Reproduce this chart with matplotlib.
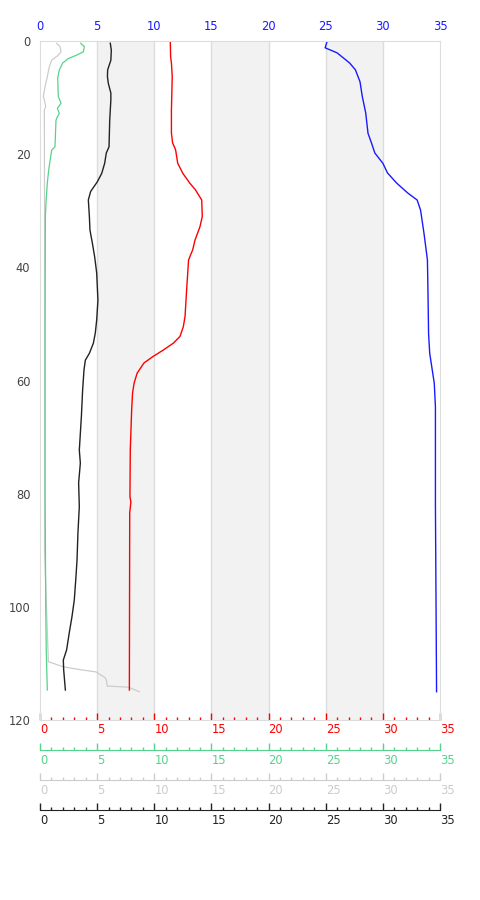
import matplotlib
matplotlib.use("Agg")
import matplotlib.pyplot as plt
from matplotlib.ticker import MultipleLocator

# depth profiles (depth in m, value on 0-35 scale)
blue_depth = [0.2, 1.2, 2.1, 3.9, 5.1, 7.2, 9.8, 12.7, 16.3, 18.0, 19.8, 21.6, 23.3, 25.1,
              26.9, 28.1, 29.9, 34.0, 38.7, 44.6, 51.7, 55.2, 60.5, 64.7, 82.0, 115.0]
blue_val = [25.1, 24.95, 26.0, 27.1, 27.6, 28.0, 28.2, 28.5, 28.7, 29.0, 29.3, 30.0, 30.4, 31.2,
            32.2, 33.0, 33.3, 33.6, 33.9, 33.95, 34.0, 34.1, 34.5, 34.6, 34.6, 34.7]

red_depth = [0, 2.8, 3.9, 6.3, 12.2, 16.3, 18.0, 18.9, 19.3, 21.6, 23.4, 25.1, 26.3, 28.1,
             31.0, 32.8, 35.2, 36.9, 38.7, 44.0, 48.7, 50.5, 52.2, 53.4, 54.6, 55.8, 56.9,
             58.7, 60.5, 62.2, 65.2, 72.3, 80.5, 81.5, 83.4, 114.7]
red_val = [11.4, 11.43, 11.5, 11.57, 11.5, 11.5, 11.6, 11.8, 11.87, 12.05, 12.5, 13.1, 13.6, 14.15,
           14.2, 14.0, 13.56, 13.36, 13.0, 12.83, 12.69, 12.54, 12.25, 11.67, 10.8, 9.86, 9.1,
           8.5, 8.23, 8.1, 8.02, 7.9, 7.87, 7.95, 7.85, 7.82]

black_depth = [0.4, 1.6, 3.4, 5.1, 6.3, 7.5, 9.2, 10.4, 14.0, 18.7, 19.8, 21.6, 23.4, 24.9,
               26.6, 28.1, 31.0, 33.4, 35.7, 38.1, 41.0, 45.8, 49.3, 51.6, 53.4, 55.2, 56.4,
               58.1, 61.7, 66.4, 72.3, 74.6, 78.1, 82.3, 86.9, 91.7, 94.6, 98.8, 101.7,
               104.6, 107.6, 109.4, 111.1, 114.7]
black_val = [6.15, 6.24, 6.2, 5.92, 5.9, 5.98, 6.2, 6.2, 6.1, 6.04, 5.8, 5.66, 5.4, 5.01,
             4.43, 4.23, 4.32, 4.37, 4.58, 4.78, 4.96, 5.07, 4.96, 4.84, 4.67, 4.32, 3.97,
             3.85, 3.73, 3.62, 3.44, 3.53, 3.38, 3.44, 3.32, 3.24, 3.15, 3.0, 2.8,
             2.56, 2.33, 2.04, 2.07, 2.22]

green_depth = [0.4, 1.0, 1.9, 2.5, 3.1, 3.9, 5.1, 6.6, 9.8, 11.0, 11.9, 12.8, 13.4, 14.0,
               18.7, 19.3, 22.8, 25.1, 28.7, 31.0, 50.0, 80.0, 100.0, 108.0, 114.7]
green_val = [3.56, 3.88, 3.8, 3.2, 2.48, 1.98, 1.69, 1.55, 1.6, 1.84, 1.52, 1.69, 1.52, 1.4,
             1.31, 1.02, 0.76, 0.64, 0.52, 0.47, 0.45, 0.45, 0.5, 0.55, 0.64]

gray_depth = [0.4, 1.0, 1.9, 2.5, 3.4, 4.5, 6.3, 8.1, 9.8, 10.4, 11.6, 12.2, 30.0, 60.0, 90.0,
              109.7, 110.6, 111.1, 111.5, 112.5, 113.1, 114.0, 114.2, 115.0]
gray_val = [1.46, 1.75, 1.84, 1.6, 1.02, 0.82, 0.64, 0.44, 0.29, 0.38, 0.5, 0.38, 0.4, 0.4, 0.4,
            0.73, 2.04, 3.5, 4.9, 5.69, 5.83, 5.87, 7.73, 8.69]

x_ticks = [0, 5, 10, 15, 20, 25, 30, 35]
y_ticks = [0, 20, 40, 60, 80, 100, 120]
bands = [(5, 10), (15, 20), (25, 30)]
xmax = 35
ymax = 120

BLUE = "#1a1aff"
RED = "#ff0000"
GREEN = "#55d38d"
LGRAY = "#cccccc"
BLACK = "#222222"
FRAME = "#dddddd"
FS = 8.3

fig = plt.figure(figsize=(4.8, 9), dpi=100)
ax = fig.add_axes([40 / 480, 180 / 900, 400 / 480, 679 / 900])

for a, b in bands:
    ax.axvspan(a, b, color="#f2f2f2", lw=0, zorder=0)
for g in x_ticks[1:-1]:
    ax.axvline(g, color=FRAME, lw=1, zorder=0.5)

ax.plot(gray_val, gray_depth, color=LGRAY, lw=0.9)
ax.plot(green_val, green_depth, color=GREEN, lw=0.9)
ax.plot(black_val, black_depth, color=BLACK, lw=1.0)
ax.plot(red_val, red_depth, color=RED, lw=1.0)
ax.plot(blue_val, blue_depth, color=BLUE, lw=1.0)

ax.set_xlim(0, xmax)
ax.set_ylim(ymax, 0)
ax.set_yticks(y_ticks)
ax.tick_params(axis="y", length=0, pad=7, labelsize=FS, labelcolor="#444444")
for s in ax.spines.values():
    s.set_color(FRAME)

# red axis on the bottom of the plot frame
ax.set_xticks(x_ticks)
ax.set_xticklabels([str(t) for t in x_ticks], ha="left")
ax.xaxis.set_minor_locator(MultipleLocator(1))
ax.tick_params(axis="x", which="major", direction="in", length=5, width=1,
               color=RED, labelcolor=RED, labelsize=FS, pad=2)
ax.tick_params(axis="x", which="minor", direction="in", length=2.5, width=1, color=RED)

# blue axis on top
top = ax.twiny()
top.set_xlim(0, xmax)
top.set_xticks(x_ticks)
top.tick_params(axis="x", length=0, labelcolor=BLUE, labelsize=FS, pad=6)
for s in top.spines.values():
    s.set_visible(False)

# extra axes below
for i, col in enumerate([GREEN, LGRAY, BLACK]):
    tw = ax.twiny()
    tw.set_xlim(0, xmax)
    tw.xaxis.set_ticks_position("bottom")
    tw.xaxis.set_label_position("bottom")
    for name, s in tw.spines.items():
        s.set_visible(name == "bottom")
    tw.spines["bottom"].set_position(("outward", (i + 1) * 30 * 0.72))
    tw.spines["bottom"].set_color(col)
    tw.set_xticks(x_ticks)
    tw.set_xticklabels([str(t) for t in x_ticks], ha="left")
    tw.xaxis.set_minor_locator(MultipleLocator(1))
    tw.tick_params(axis="x", which="major", direction="in", length=5, width=1,
                   color=col, labelcolor=col, labelsize=FS, pad=3)
    tw.tick_params(axis="x", which="minor", direction="in", length=2.5, width=1, color=col)

fig.savefig("out.png", dpi=100)
